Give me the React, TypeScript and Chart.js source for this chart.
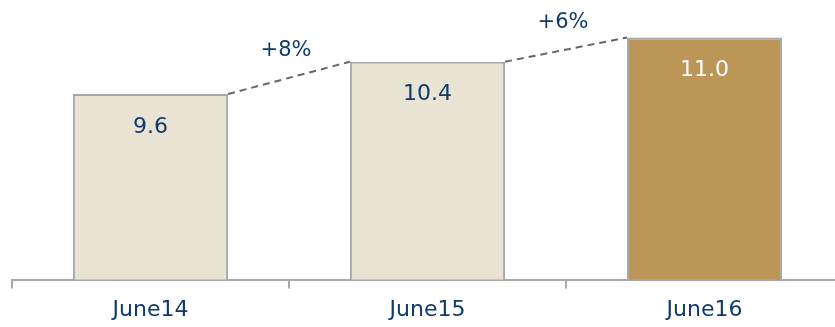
import React, { useEffect, useRef } from "react";
import { Chart, registerables } from "chart.js";

Chart.register(...registerables);

const categories = ["June14", "June15", "June16"];
const values = [9.6, 10.4, 11.0];
const growthLabels = ["+8%", "+6%"];
const barColors = ["#e8e3d2", "#e8e3d2", "#bc9656"];
const valueLabelColors = ["#0e3a6c", "#0e3a6c", "#ffffff"];

const NAVY = "#0e3a6c";
const FONT = "'DejaVu Sans', Verdana, sans-serif";

const overlayPlugin = {
  id: "overlay",
  afterDatasetsDraw(chart: any) {
    const ctx = chart.ctx;
    const meta = chart.getDatasetMeta(0);
    const bars = meta.data;
    ctx.save();
    ctx.font = `22px ${FONT}`;
    ctx.textAlign = "center";
    ctx.textBaseline = "middle";
    bars.forEach((b: any, i: number) => {
      ctx.fillStyle = valueLabelColors[i];
      ctx.fillText(values[i].toFixed(1), b.x, b.y + 33);
    });
    ctx.strokeStyle = "#666666";
    ctx.lineWidth = 2;
    ctx.setLineDash([7, 5]);
    for (let i = 0; i < bars.length - 1; i++) {
      const a = bars[i];
      const c = bars[i + 1];
      const x1 = a.x + a.width / 2;
      const x2 = c.x - c.width / 2;
      ctx.beginPath();
      ctx.moveTo(x1, a.y);
      ctx.lineTo(x2, c.y);
      ctx.stroke();
      ctx.fillStyle = NAVY;
      ctx.font = `21px ${FONT}`;
      ctx.fillText(growthLabels[i], (x1 + x2) / 2 - 3, (a.y + c.y) / 2 - 27);
    }
    ctx.restore();
  },
};

export default function App() {
  const ref = useRef<HTMLCanvasElement>(null);
  useEffect(() => {
    document.body.style.margin = "0";
    const chart = new Chart(ref.current!, {
      type: "bar",
      data: {
        labels: categories,
        datasets: [
          {
            data: values,
            backgroundColor: barColors,
            borderColor: "#a8a8a8",
            borderWidth: 2,
            borderSkipped: false,
            categoryPercentage: 1,
            barPercentage: 0.56,
          },
        ],
      },
      options: {
        responsive: false,
        animation: false,
        layout: { padding: { left: 12, right: 0, top: 0, bottom: 0 } },
        plugins: { legend: { display: false }, tooltip: { enabled: false } },
        scales: {
          y: { display: false, min: 5, max: 11.93 },
          x: {
            grid: {
              display: true,
              drawOnChartArea: false,
              drawTicks: true,
              tickLength: 9,
              color: "#a8a8a8",
              lineWidth: 2,
              offset: true,
            },
            border: { display: true, color: "#a8a8a8", width: 2 },
            ticks: {
              color: NAVY,
              font: { family: FONT, size: 22 },
              padding: 8,
            },
          },
        },
      },
      plugins: [overlayPlugin],
    });
    return () => chart.destroy();
  }, []);
  return (
    <div style={{ position: "fixed", left: 0, top: 0, width: 835, height: 327, overflow: "hidden" }}>
      <canvas ref={ref} width={843} height={331} style={{ display: "block" }} />
    </div>
  );
}
